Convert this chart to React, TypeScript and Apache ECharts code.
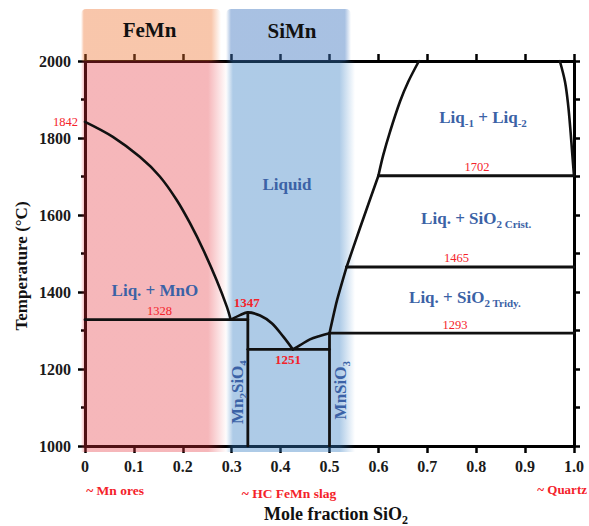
import React, { useEffect, useRef } from 'react';
import * as echarts from 'echarts';

const FONT = '"Liberation Serif", "Times New Roman", Times, serif';
const BLUE = '#3b62a6';
const RED = '#f4222a';
const INK = '#111111';

// Composition axis (mole fraction SiO2) tick labels
const xTickLabels = ['0', '0.1', '0.2', '0.3', '0.4', '0.5', '0.6', '0.7', '0.8', '0.9', '1.0'];

// Liquidus curves, [x SiO2, T in °C]
const liquidusMnO = [
  [0, 1842], [0.057, 1803], [0.112, 1751], [0.153, 1700], [0.1875, 1639],
  [0.215, 1578], [0.242, 1509], [0.269, 1431], [0.29, 1362], [0.298, 1328],
];
const liquidusMn2SiO4 = [
  [0.298, 1328], [0.317, 1340], [0.333, 1347], [0.358, 1339], [0.382, 1319],
  [0.4055, 1284], [0.425, 1251],
];
const liquidusMnSiO3 = [[0.425, 1251], [0.44, 1262], [0.46, 1277], [0.48, 1286], [0.5, 1293]];
const liquidusTridymite = [[0.5, 1293], [0.5147, 1375], [0.535, 1465]];
const liquidusCristobalite = [[0.535, 1465], [0.562, 1565], [0.6, 1702]];
const miscibilityLeft = [[0.6, 1702], [0.61, 1756], [0.6237, 1816], [0.644, 1894], [0.661, 1946], [0.683, 2000]];
const miscibilityRight = [[0.971, 2000], [0.9816, 1946], [0.988, 1886], [0.993, 1816], [0.9966, 1756], [1.0, 1702]];

// Invariant isotherms
const isothermT = [1328, 1251, 1293, 1465, 1702];
const isothermFrom = [0, 0.333, 0.5, 0.535, 0.6];
const isothermTo = [0.333, 0.5, 1, 1, 1];

// Intermediate compounds (Mn2SiO4, MnSiO3)
const compoundX = [0.333, 0.5];
const compoundTop = [1347, 1293];

const mnoMeltingT = 1842;
const mn2sio4MeltingT = 1347;

export default function App() {
  const ref = useRef<HTMLDivElement>(null);

  useEffect(() => {
    document.body.style.margin = '0';
    const el = ref.current!;
    const chart = echarts.init(el, null, { renderer: 'svg' });

    const curve = (data: number[][], smooth: number | boolean = 0.35, width = 2.6) => ({
      type: 'line',
      data,
      smooth,
      symbol: 'none',
      showSymbol: false,
      silent: true,
      z: 3,
      lineStyle: { color: INK, width, cap: 'round', join: 'round' },
    });

    const series: any[] = [
      curve(liquidusMnO),
      curve(liquidusMn2SiO4),
      curve(liquidusMnSiO3),
      curve(liquidusTridymite, 0.2),
      curve(liquidusCristobalite, 0.2),
      curve(miscibilityLeft),
      curve(miscibilityRight),
    ];
    isothermT.forEach((t, i) => {
      series.push(curve([[isothermFrom[i], t], [isothermTo[i], t]], false, 2.8));
    });
    compoundX.forEach((x, i) => {
      series.push(curve([[x, 1000], [x, compoundTop[i]]], false, 2.8));
    });

    const tickStyle = { color: '#000', width: 2.5 };
    const axisLine = { show: true, onZero: false, lineStyle: { color: '#000', width: 3 } };
    const tickLabel = { fontFamily: FONT, fontWeight: 'bold', fontSize: 16, color: '#1a1a1a' };

    chart.setOption({
      animation: false,
      grid: { left: 85, right: 15, top: 61, bottom: 80, containLabel: false },
      xAxis: [
        {
          type: 'value', min: 0, max: 1, interval: 0.1, position: 'bottom',
          axisLine, splitLine: { show: false },
          axisTick: { show: true, length: 7, lineStyle: tickStyle },
          axisLabel: { ...tickLabel, margin: 12, formatter: (v: number) => xTickLabels[Math.round(v * 10)] },
        },
        {
          type: 'value', min: 0, max: 1, interval: 0.1, position: 'top',
          axisLine, splitLine: { show: false },
          axisTick: { show: true, length: 7, lineStyle: tickStyle },
          axisLabel: { show: false },
        },
      ],
      yAxis: [
        {
          type: 'value', min: 1000, max: 2000, interval: 200, position: 'left',
          axisLine, splitLine: { show: false },
          axisTick: { show: true, length: 7, lineStyle: tickStyle },
          minorTick: { show: true, splitNumber: 2, length: 4, lineStyle: tickStyle },
          axisLabel: { ...tickLabel, margin: 14, formatter: (v: number) => String(v) },
        },
        {
          type: 'value', min: 1000, max: 2000, interval: 100, position: 'right',
          axisLine, splitLine: { show: false },
          axisTick: { show: true, length: 6, lineStyle: tickStyle },
          axisLabel: { show: false },
        },
      ],
      series,
    });

    const px = (x: number, y: number) => chart.convertToPixel({ xAxisIndex: 0, yAxisIndex: 0 }, [x, y]) as number[];

    const rich = (size: number, color: string, weight = 'bold') => ({
      m: { fontSize: size, fill: color, fontFamily: FONT, fontWeight: weight, lineHeight: size + 6, verticalAlign: 'middle' },
      s: {
        fontSize: Math.round(size * 0.66), fill: color, fontFamily: FONT, fontWeight: weight,
        lineHeight: Math.round(size * 0.66) + 1, verticalAlign: 'bottom',
      },
    });

    // Rich text (with subscripts) when the content uses {m|..}{s|..} tokens, plain text otherwise
    const text = (
      x: number, y: number, content: string, size: number, color: string,
      opts: { weight?: string; align?: string; rotation?: number } = {}
    ) => {
      const weight = opts.weight || 'bold';
      const style: any = {
        text: content, fill: color, fontFamily: FONT, fontSize: size,
        fontWeight: weight, align: opts.align || 'center', verticalAlign: 'middle',
      };
      if (content.indexOf('{') >= 0) style.rich = rich(size, color, weight);
      return { type: 'text', x, y, z: 20, rotation: opts.rotation || 0, silent: true, style };
    };

    const gridTop = px(0, 2000)[1];
    const gridBottom = px(0, 1000)[1];

    // Process windows: FeMn (pink) and SiMn (blue) shaded bands
    const hGrad = (color: string, clear: string, a: number, b: number) =>
      new echarts.graphic.LinearGradient(0, 0, 1, 0, [
        { offset: 0, color: clear }, { offset: a, color }, { offset: b, color }, { offset: 1, color: clear },
      ]);
    const bands: any[] = [
      {
        type: 'rect', z: 1, silent: true,
        shape: { x: 81, y: 9, width: 140, height: gridTop - 9, r: [5, 5, 0, 0] },
        style: { fill: hGrad('rgba(238,113,45,0.4)', 'rgba(238,113,45,0)', 0.02, 0.93) },
      },
      {
        type: 'rect', z: 1, silent: true,
        shape: { x: 81, y: gridTop, width: 146, height: gridBottom - gridTop + 6 },
        style: { fill: hGrad('rgba(229,49,58,0.35)', 'rgba(229,49,58,0)', 0.025, 0.87) },
      },
      {
        type: 'rect', z: 1, silent: true,
        shape: { x: 226, y: 9, width: 125, height: gridTop - 9, r: [5, 5, 0, 0] },
        style: { fill: hGrad('rgba(62,117,191,0.45)', 'rgba(62,117,191,0)', 0.04, 0.95) },
      },
      {
        type: 'rect', z: 1, silent: true,
        shape: { x: 226, y: gridTop, width: 129, height: gridBottom - gridTop + 6 },
        style: { fill: hGrad('rgba(52,125,195,0.4)', 'rgba(52,125,195,0)', 0.054, 0.88) },
      },
    ];

    const labels: any[] = [];
    // Process headers
    labels.push(text(149.5, 30, 'FeMn', 21, INK));
    labels.push(text(292, 31, 'SiMn', 21, INK));

    // Phase fields
    const field = (x: number, y: number, content: string, rotation = 0) => {
      const p = px(x, y);
      return text(p[0], p[1], content, 17, BLUE, { rotation });
    };
    labels.push(field(0.143, 1405, 'Liq. + MnO'));
    labels.push(field(0.413, 1680, 'Liquid'));
    labels.push(field(0.814, 1854, '{m|Liq}{s|-1}{m| + Liq}{s|-2}'));
    labels.push(field(0.8, 1592, '{m|Liq. + SiO}{s|2 Crist.}'));
    labels.push(field(0.777, 1387, '{m|Liq. + SiO}{s|2 Tridy.}'));
    labels.push(field(0.311, 1140, '{m|Mn}{s|2}{m|SiO}{s|4}', Math.PI / 2));
    labels.push(field(0.5215, 1145, '{m|MnSiO}{s|3}', Math.PI / 2));

    // Invariant temperatures
    const tLabel = (x: number, t: number, dy: number, bold: boolean) => {
      const p = px(x, t);
      return text(p[0], p[1] + dy, String(t), bold ? 13 : 12.5, RED, { weight: bold ? 'bold' : 'normal' });
    };
    labels.push(tLabel(0.1524, isothermT[0], -9, false));
    labels.push(tLabel(0.415, isothermT[1], 10.5, true));
    labels.push(tLabel(0.7566, isothermT[2], -8, false));
    labels.push(tLabel(0.7597, isothermT[3], -8.5, false));
    labels.push(tLabel(0.8016, isothermT[4], -9, false));
    labels.push(tLabel(0.331, mn2sio4MeltingT, -9.5, true));
    const pMnO = px(0, mnoMeltingT);
    labels.push(text(pMnO[0] - 7, pMnO[1], String(mnoMeltingT), 12.5, RED, { weight: 'normal', align: 'right' }));

    // Raw material markers under the composition axis
    labels.push(text(115, 490, '~ Mn ores', 13.5, RED));
    labels.push(text(289, 493, '~ HC FeMn slag', 13.5, RED));
    labels.push(text(587, 489, '~ Quartz', 13, RED, { align: 'right' }));

    // Axis titles
    labels.push(text(336, 514, '{m|Mole fraction SiO}{s|2}', 18, INK));
    labels.push(text(21, 266, 'Temperature (°C)', 17, INK, { rotation: Math.PI / 2 }));

    chart.setOption({ graphic: { elements: [...bands, ...labels] } });

    return () => chart.dispose();
  }, []);

  return <div ref={ref} style={{ width: 589, height: 526 }} />;
}
